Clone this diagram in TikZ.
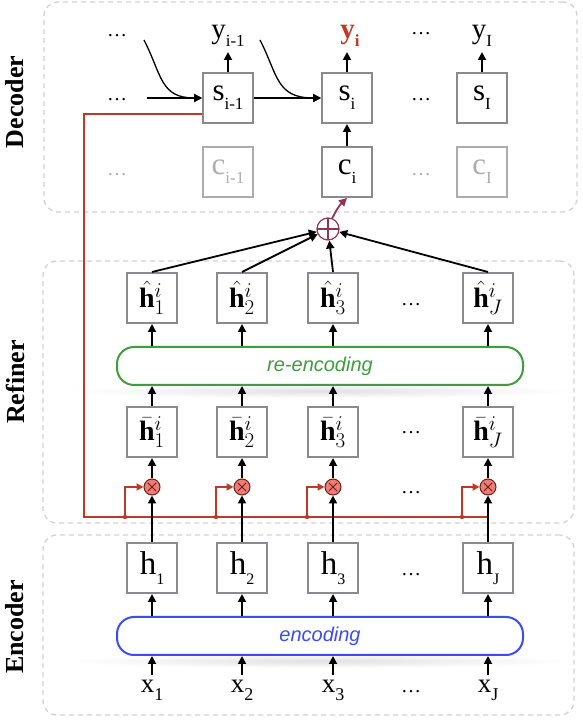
\documentclass[tikz,border=0pt]{standalone}
\usepackage{fix-cm}
\usepackage{fontspec}
\setmainfont{Liberation Serif}
\setsansfont{Liberation Sans}
\usepackage{xcolor}
\usetikzlibrary{arrows.meta, positioning, calc}
\definecolor{boxgray}{HTML}{8A898E}
\definecolor{fadegray}{HTML}{ADADAD}
\definecolor{panelgray}{HTML}{D2D2D2}
\definecolor{gatered}{HTML}{BE3A26}
\definecolor{gatefill}{HTML}{EE7B78}
\definecolor{sumred}{HTML}{8E3556}
\definecolor{reencgreen}{HTML}{3E9E3E}
\definecolor{encblue}{HTML}{3A4DF0}
\DeclareMathSizes{28}{28}{21}{15}
\newcommand{\lowsub}[2][17]{\raisebox{-0.3em}{\fontsize{#1}{#1}\selectfont #2}}
\tikzstyle{cell} = [rectangle, draw=boxgray, line width=2pt, fill=white, minimum width=50pt, minimum height=50pt, inner sep=0pt, font=\fontsize{31}{31}\selectfont]
\tikzstyle{fadecell} = [cell, draw=fadegray, text=fadegray]
\tikzstyle{arrow} = [-{Triangle[length=8pt, width=8pt]}, line width=1.8pt, color=black]

\begin{document}
\begin{tikzpicture}[x=1pt, y=1pt,
    panel/.style={rectangle, draw=panelgray, dash pattern=on 5pt off 4pt, line width=1.3pt,
      rounded corners=14pt, inner sep=0pt},
    side/.style={rotate=90, font=\fontsize{26}{26}\selectfont\bfseries},
    lbl/.style={inner sep=5pt, font=\fontsize{29}{29}\selectfont},
    xlbl/.style={inner sep=5pt, font=\fontsize{27}{27}\selectfont},
    dotsl/.style={inner sep=0pt, font=\fontsize{20}{20}\selectfont},
    rcell/.style={cell, font=\fontsize{28}{28}\selectfont},
    hcell/.style={cell, font=\fontsize{33}{33}\selectfont},
    layer/.style={rectangle, rounded corners=17pt, line width=2pt, fill=white,
      minimum width=406pt, minimum height=38pt, font=\fontsize{20}{20}\selectfont\sffamily\itshape},
    gate/.style={circle, draw=gatered!55!black, fill=gatefill, line width=1pt, minimum size=16pt,
      inner sep=0pt, path picture={
        \draw[line width=1pt] ([shift={(-4pt,-4pt)}]path picture bounding box.center) -- ([shift={(4pt,4pt)}]path picture bounding box.center)
          ([shift={(-4pt,4pt)}]path picture bounding box.center) -- ([shift={(4pt,-4pt)}]path picture bounding box.center);}},
    osum/.style={circle, draw=sumred, line width=1.2pt, minimum size=22pt, inner sep=0pt, fill=white,
      path picture={
        \draw[sumred, line width=1.2pt] (path picture bounding box.north) -- (path picture bounding box.south)
          (path picture bounding box.west) -- (path picture bounding box.east);}},
    redln/.style={gatered, line width=2.2pt},
    redarr/.style={redln, -{Triangle[length=7pt, width=7pt]}},
    sumarr/.style={sumred, line width=1.8pt, -{Triangle[length=8pt, width=8pt]}}
  ]
    \useasboundingbox (0,0) rectangle (582,720);

    % ── Panels
    \node[panel, minimum width=533pt, minimum height=210pt] (decpanel) at (310.5,613) {};
    \node[panel, minimum width=531pt, minimum height=262pt] (refpanel) at (308.5,328) {};
    \node[panel, minimum width=531pt, minimum height=180pt] (encpanel) at (308.5,95) {};
    \node[side] (declbl) at (15,618) {Decoder};
    \node[side] (reflbl) at (15,338) {Refiner};
    \node[side] (enclbl) at (15,93) {Encoder};

    % ── Decoder outputs
    \node[dotsl] (ydots1) at (117,684) {\dots};
    \node[lbl, anchor=south] (yprev) at (228,668) {y\lowsub{i-1}};
    \node[lbl, anchor=south, text=gatered, font=\fontsize{29}{29}\selectfont\bfseries] (ycur) at (350,668) {y\lowsub{i}};
    \node[dotsl] (ydots2) at (421,686) {\dots};
    \node[lbl, anchor=south] (ylast) at (482,668) {y\lowsub{I}};

    % ── Decoder states
    \node[dotsl] (sdots1) at (117,620) {\dots};
    \node[cell] (sprev) at (228,622) {s\lowsub{i-1}};
    \node[cell] (scur) at (347,622) {s\lowsub{i}};
    \node[dotsl] (sdots2) at (421,620) {\dots};
    \node[cell] (slast) at (482,622) {s\lowsub{I}};

    % ── Contexts
    \node[dotsl, text=fadegray] (cdots1) at (117,545) {\dots};
    \node[fadecell] (cprev) at (228,548) {c\lowsub{i-1}};
    \node[cell] (ccur) at (347,548) {c\lowsub{i}};
    \node[dotsl, text=fadegray] (cdots2) at (421,545) {\dots};
    \node[fadecell] (clast) at (482,548) {c\lowsub{I}};

    \coordinate (ydotsout) at (144,680);
    \coordinate (sdotsout) at (147,622);
    \coordinate (yprevout) at (260,680);

    % ── Refiner
    \node[osum] (osum) at (328,491) {};
    \node[rcell] (hat1) at (152,422) {$\hat{\mathbf{h}}^{i}_{1}$};
    \node[rcell] (hat2) at (242,422) {$\hat{\mathbf{h}}^{i}_{2}$};
    \node[rcell] (hat3) at (333,422) {$\hat{\mathbf{h}}^{i}_{3}$};
    \node[dotsl] (hatdots) at (411,415) {\dots};
    \node[rcell] (hatJ) at (488,422) {$\hat{\mathbf{h}}^{i}_{J}$};

    \shade[inner color=black!12, outer color=white] (320,329) ellipse (252 and 7);
    \node[layer, draw=reencgreen, text=reencgreen] (renc) at (320,354) {re-encoding};

    \node[rcell] (bar1) at (152,288) {$\bar{\mathbf{h}}^{i}_{1}$};
    \node[rcell] (bar2) at (242,288) {$\bar{\mathbf{h}}^{i}_{2}$};
    \node[rcell] (bar3) at (333,288) {$\bar{\mathbf{h}}^{i}_{3}$};
    \node[dotsl] (bardots) at (411,287) {\dots};
    \node[rcell] (barJ) at (488,288) {$\bar{\mathbf{h}}^{i}_{J}$};

    \node[gate] (g1) at (152,233) {};
    \node[gate] (g2) at (242,233) {};
    \node[gate] (g3) at (333,233) {};
    \node[dotsl] (gdots) at (411,227) {\dots};
    \node[gate] (gJ) at (488,233) {};
    \coordinate (redturn) at (84,203);

    % ── Encoder
    \node[hcell] (h1) at (152,152) {h\lowsub[16]{1}};
    \node[hcell] (h2) at (242,152) {h\lowsub[16]{2}};
    \node[hcell] (h3) at (333,152) {h\lowsub[16]{3}};
    \node[dotsl] (hdots) at (411,145) {\dots};
    \node[hcell] (hJ) at (488,152) {h\lowsub[16]{J}};

    \shade[inner color=black!12, outer color=white] (320,59) ellipse (252 and 7);
    \node[layer, draw=encblue, text=encblue] (enc) at (320,84) {encoding};

    \node[xlbl, anchor=north] (x1) at (152,45) {x\lowsub[18]{1}};
    \node[xlbl, anchor=north] (x2) at (242,45) {x\lowsub[18]{2}};
    \node[xlbl, anchor=north] (x3) at (333,45) {x\lowsub[18]{3}};
    \node[dotsl] (xdots) at (411,28) {\dots};
    \node[xlbl, anchor=north] (xJ) at (488,45) {x\lowsub[18]{J}};

    % ── Decoder arrows
    \draw[arrow] (sprev.north) -- (sprev.north |- yprev.south);
    \draw[arrow] (scur.north) -- (scur.north |- ycur.south);
    \draw[arrow] (slast.north) -- (slast.north |- ylast.south);
    \draw[arrow] (sdotsout) -- (sprev.west);
    \draw[arrow, line width=1.3pt] (ydotsout) .. controls (162,645) and (160,622) .. (sprev.west);
    \draw[arrow] (sprev) -- (scur);
    \draw[arrow, line width=1.3pt] (yprevout) .. controls (278,645) and (276,622) .. (scur.west);
    \draw[arrow] (ccur) -- (scur);
    \draw[sumarr] (osum) to[bend left=10] (ccur.south);

    % ── Red gating path
    \draw[redln] ([yshift=-16pt]sprev.west) -| (redturn) -- (redturn -| gJ);
    \fill[gatered] ($(redturn -| g1)+(-27,0)$) circle (2.2);
    \draw[redarr] ($(redturn -| g1)+(-27,0)$) |- (g1.west);
    \fill[gatered] ($(redturn -| g2)+(-26,0)$) circle (2.2);
    \draw[redarr] ($(redturn -| g2)+(-26,0)$) |- (g2.west);
    \fill[gatered] ($(redturn -| g3)+(-26,0)$) circle (2.2);
    \draw[redarr] ($(redturn -| g3)+(-26,0)$) |- (g3.west);
    \fill[gatered] ($(redturn -| gJ)+(-26,0)$) circle (2.2);
    \draw[redarr] ($(redturn -| gJ)+(-26,0)$) |- (gJ.west);

    % ── Refiner arrows
    \draw[arrow] (h1) -- (g1);
    \draw[arrow] (h2) -- (g2);
    \draw[arrow] (h3) -- (g3);
    \draw[arrow] (hJ) -- (gJ);
    \draw[arrow] (g1) -- (bar1);
    \draw[arrow] (g2) -- (bar2);
    \draw[arrow] (g3) -- (bar3);
    \draw[arrow] (gJ) -- (barJ);
    \draw[arrow] (bar1.north) -- (bar1.north |- renc.south);
    \draw[arrow] (bar2.north) -- (bar2.north |- renc.south);
    \draw[arrow] (bar3.north) -- (bar3.north |- renc.south);
    \draw[arrow] (barJ.north) -- (barJ.north |- renc.south);
    \draw[arrow] (hat1.south |- renc.north) -- (hat1.south);
    \draw[arrow] (hat2.south |- renc.north) -- (hat2.south);
    \draw[arrow] (hat3.south |- renc.north) -- (hat3.south);
    \draw[arrow] (hatJ.south |- renc.north) -- (hatJ.south);
    \draw[arrow] (hat1.north) -- (osum);
    \draw[arrow] (hat2.north) -- (osum);
    \draw[arrow] (hat3.north) -- (osum);
    \draw[arrow] (hatJ.north) -- (osum);

    % ── Encoder arrows
    \draw[arrow] (x1.north) -- (x1.north |- enc.south);
    \draw[arrow] (x2.north) -- (x2.north |- enc.south);
    \draw[arrow] (x3.north) -- (x3.north |- enc.south);
    \draw[arrow] (xJ.north) -- (xJ.north |- enc.south);
    \draw[arrow] (h1.south |- enc.north) -- (h1.south);
    \draw[arrow] (h2.south |- enc.north) -- (h2.south);
    \draw[arrow] (h3.south |- enc.north) -- (h3.south);
    \draw[arrow] (hJ.south |- enc.north) -- (hJ.south);
\end{tikzpicture}
\end{document}
